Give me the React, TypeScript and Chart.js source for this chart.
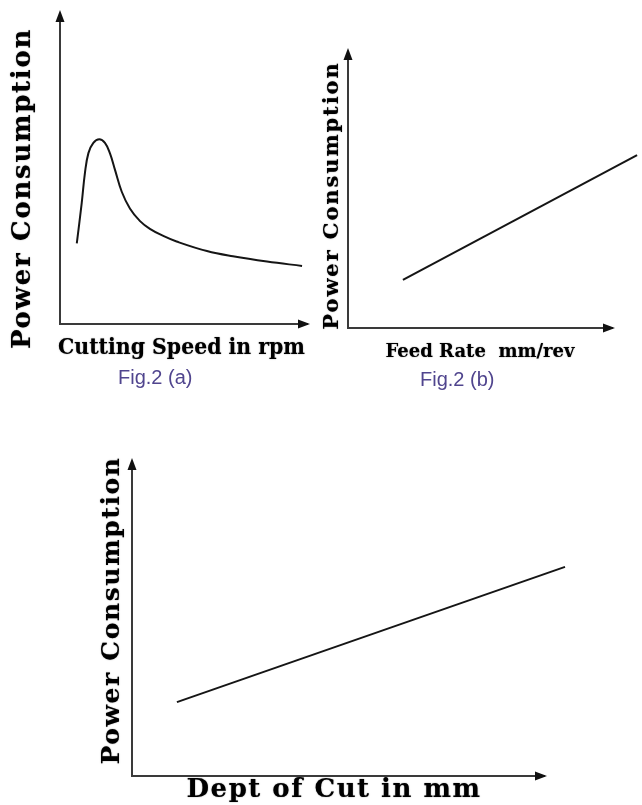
import React, { useEffect, useRef } from "react";
import { Chart, registerables } from "chart.js";

Chart.register(...registerables);

// ---- data ----
const speedX = [6.8, 8.8, 10.1, 11.5, 13.5, 15.9, 18.2, 20.2, 22.3, 25.0, 28.3, 32.4, 36.4, 41.8, 47.2, 59.5, 70.0, 83.8, 98.0];
const speedPower = [26.1, 39.2, 48.9, 55.3, 58.6, 59.8, 58.6, 55.3, 49.8, 42.8, 37.4, 33.3, 30.8, 28.5, 26.7, 23.6, 21.9, 20.2, 18.8];
const feedX = [20.8, 109.5];
const feedPower = [17.5, 62.9];
const depthX = [10.9, 105.1];
const depthPower = [23.6, 66.8];

const yTitle = "Power Consumption";
const speedTitle = "Cutting Speed in rpm";
const feedTitle = "Feed Rate  mm/rev";
const depthTitle = "Dept of Cut in mm";
const captions = ["Fig.2 (a)", "Fig.2 (b)"];

const SERIF = "'DejaVu Serif', 'Liberation Serif', serif";

const arrowPlugin = {
  id: "axisArrows",
  afterDraw(chart: any) {
    const { ctx, chartArea } = chart;
    const { left, right, top, bottom } = chartArea;
    ctx.save();
    ctx.fillStyle = "#111";
    ctx.beginPath();
    ctx.moveTo(left, top - 5);
    ctx.lineTo(left - 4.5, top + 7);
    ctx.lineTo(left + 4.5, top + 7);
    ctx.closePath();
    ctx.fill();
    ctx.beginPath();
    ctx.moveTo(right + 3, bottom);
    ctx.lineTo(right - 9, bottom - 4.5);
    ctx.lineTo(right - 9, bottom + 4.5);
    ctx.closePath();
    ctx.fill();
    ctx.restore();
  },
};

// shifts / spaces / thickens the axis titles drawn by the scales
const titleTweakPlugin = {
  id: "titleTweak",
  beforeDraw(chart: any, _args: any, opts: any) {
    for (const id of ["x", "y"]) {
      const scale = chart.scales[id];
      const t = opts && opts[id];
      if (!scale || !t || scale.__tweaked) continue;
      const orig = scale.drawTitle.bind(scale);
      scale.drawTitle = () => {
        const ctx = chart.ctx;
        ctx.save();
        ctx.translate(t.dx || 0, t.dy || 0);
        (ctx as any).letterSpacing = `${t.ls || 0}px`;
        ctx.shadowColor = "rgba(0,0,0,0.55)";
        ctx.shadowBlur = 1.2;
        orig();
        ctx.restore();
      };
      scale.__tweaked = true;
    }
  },
};

type Tweak = { dx?: number; dy?: number; ls?: number };

type PlotProps = {
  left: number;
  top: number;
  width: number;
  height: number;
  xs: number[];
  ys: number[];
  curve?: boolean;
  xTitle: string;
  xSize: number;
  xLine?: number;
  xPad: [number, number];
  ySize: number;
  yPad: [number, number];
  pad: { top: number; right: number; bottom: number };
  tweak: { x?: Tweak; y?: Tweak };
};

function Plot(p: PlotProps) {
  const ref = useRef<HTMLCanvasElement | null>(null);
  useEffect(() => {
    if (!ref.current) return;
    const axisBase = {
      type: "linear" as const,
      min: 0,
      max: 100,
      grid: { display: false, drawTicks: false },
      ticks: { display: false },
      border: { display: true, color: "#3a3a3a", width: 2 },
    };
    const chart = new Chart(ref.current, {
      type: "line",
      data: {
        datasets: [
          {
            data: p.xs.map((x, i) => ({ x, y: p.ys[i] })),
            borderColor: "#151515",
            borderWidth: 2,
            pointRadius: 0,
            fill: false,
            clip: false as any,
            tension: p.curve ? 0.4 : 0,
          },
        ],
      },
      options: {
        animation: false,
        responsive: false,
        layout: { padding: { left: 0, top: p.pad.top, right: p.pad.right, bottom: p.pad.bottom } },
        plugins: {
          legend: { display: false },
          tooltip: { enabled: false },
          titleTweak: p.tweak,
        } as any,
        scales: {
          x: {
            ...axisBase,
            title: {
              display: true,
              text: p.xTitle,
              color: "#000",
              font: { family: SERIF, size: p.xSize, weight: "bold", lineHeight: p.xLine ?? 1.2 },
              padding: { top: p.xPad[0], bottom: p.xPad[1] },
            },
          },
          y: {
            ...axisBase,
            title: {
              display: true,
              text: yTitle,
              color: "#000",
              font: { family: SERIF, size: p.ySize, weight: "bold", lineHeight: 1.2 },
              padding: { top: p.yPad[0], bottom: p.yPad[1] },
            },
          },
        },
      },
      plugins: [arrowPlugin, titleTweakPlugin],
    });
    return () => chart.destroy();
  }, []);
  return (
    <canvas
      ref={ref}
      width={p.width}
      height={p.height}
      style={{ position: "absolute", left: p.left, top: p.top, width: p.width, height: p.height }}
    />
  );
}

const captionStyle: React.CSSProperties = {
  position: "absolute",
  fontFamily: "'Liberation Sans', Arial, sans-serif",
  fontSize: 20,
  lineHeight: "20px",
  color: "#50458e",
  whiteSpace: "nowrap",
};

export default function App() {
  return (
    <div style={{ position: "absolute", left: 0, top: 0, width: 642, height: 805, overflow: "hidden", background: "#fff" }}>
      <Plot
        left={0}
        top={0}
        width={320}
        height={370}
        xs={speedX}
        ys={speedPower}
        curve
        xTitle={speedTitle}
        xSize={22}
        xPad={[10.8, 5.4]}
        ySize={26}
        yPad={[7.4, 21.4]}
        pad={{ top: 15, right: 13, bottom: 3.4 }}
        tweak={{ x: { dx: -2 }, y: { dy: 19, ls: 1.7 } }}
      />
      <Plot
        left={320}
        top={0}
        width={322}
        height={370}
        xs={feedX}
        ys={feedPower}
        xTitle={feedTitle}
        xSize={18}
        xPad={[13.2, 7.2]}
        ySize={21}
        yPad={[0.4, 2.4]}
        pad={{ top: 53, right: 30, bottom: 0 }}
        tweak={{ x: {}, y: { dy: 5, ls: 1.9 } }}
      />
      <Plot
        left={90}
        top={440}
        width={490}
        height={365}
        xs={depthX}
        ys={depthPower}
        xTitle={depthTitle}
        xSize={26}
        xLine={1.0}
        xPad={[1, 2]}
        ySize={25}
        yPad={[7, 5]}
        pad={{ top: 23, right: 36, bottom: 0 }}
        tweak={{ x: { dx: -4, ls: 1.5 }, y: { dy: -9, ls: 1.6 } }}
      />
      <div style={{ ...captionStyle, left: 118, top: 367 }}>{captions[0]}</div>
      <div style={{ ...captionStyle, left: 420, top: 369 }}>{captions[1]}</div>
    </div>
  );
}
